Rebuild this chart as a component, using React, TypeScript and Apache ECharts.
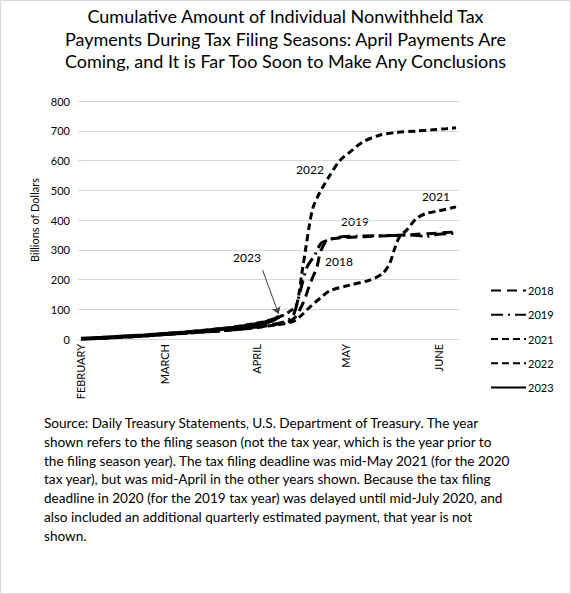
import React, { useEffect, useRef } from 'react';
import * as echarts from 'echarts';

// days counted from February 1
const monthLabels = ['FEBRUARY', 'MARCH', 'APRIL', 'MAY', 'JUNE'];
const monthStartDays = [0, 28, 59, 89, 120];

const years = ['2018', '2019', '2021', '2022', '2023'];

const s2018: [number, number][] = [
  [0, 1], [7, 3], [14, 6], [21, 10], [28, 15], [35, 19], [42, 24], [49, 29], [56, 35],
  [60, 40], [63, 45], [66, 50], [69, 56], [71, 65], [72.5, 80], [75, 130], [77, 187],
  [79.3, 243], [80.3, 288], [81.9, 322], [83.6, 335], [87, 340], [95, 344], [105, 348],
  [113, 352], [120, 356], [126, 360],
];
const s2019: [number, number][] = [
  [0, 1], [7, 3], [14, 7], [21, 11], [28, 16], [35, 20], [42, 25], [49, 30], [56, 37],
  [60, 42], [63, 47], [66, 52], [69, 60], [71, 75], [72, 97], [74.2, 181], [76, 243],
  [78.6, 282], [79.3, 299], [80.8, 323], [83, 332], [87, 343], [95, 346], [105, 348],
  [110, 350], [116, 345], [120, 352], [126, 355],
];
const s2021: [number, number][] = [
  [0, 1], [7, 3], [14, 6], [21, 10], [28, 15], [35, 19], [42, 24], [49, 29], [56, 35],
  [60, 40], [63, 44], [66, 48], [70, 55], [72, 62], [73.6, 75], [77, 108], [80.3, 137],
  [83.6, 162], [90.3, 181], [97, 198], [101.3, 220], [103.7, 254], [105.4, 304],
  [107, 343], [109.4, 366], [112.7, 405], [116, 422], [120.4, 431], [126, 444],
];
const s2022: [number, number][] = [
  [0, 1], [7, 4], [14, 8], [21, 12], [28, 18], [35, 23], [42, 30], [49, 37], [56, 48],
  [60, 55], [63, 62], [66, 72], [68, 80], [70, 92], [72.2, 110], [73.2, 150], [74.2, 220],
  [75.6, 310], [76.6, 375], [77.9, 440], [79.6, 480], [80.9, 505], [83.6, 550], [87, 600],
  [90.3, 628], [94.6, 662], [100.3, 685], [106, 694], [112.7, 699], [118, 703],
  [122.7, 707], [126, 710],
];
const s2023: [number, number][] = [
  [0, 1], [7, 4], [14, 8], [21, 12], [28, 17], [35, 22], [42, 28], [49, 35], [56, 45],
  [60, 52], [63, 58], [65, 66], [66.5, 75],
];

const seriesData = [s2018, s2019, s2021, s2022, s2023];
const dashes: (number[] | 'solid')[] = [[10, 6], [12, 5, 2, 5], [7, 4], [7, 4], 'solid'];
const widths = [3, 3, 3, 3, 4];

const footnote = [
  'Source: Daily Treasury Statements, U.S. Department of Treasury. The year',
  'shown refers to the filing season (not the tax year, which is the year prior to',
  'the filing season year). The tax filing deadline was mid-May 2021 (for the 2020',
  'tax year), but was mid-April in the other years shown. Because the tax filing',
  'deadline in 2020 (for the 2019 tax year) was delayed until mid-July 2020, and',
  'also included an additional quarterly estimated payment, that year is not',
  'shown.',
].join('\n');

const FONT = 'Lato, "Open Sans", sans-serif';

const App: React.FC = () => {
  const chartRef = useRef<HTMLDivElement>(null);

  useEffect(() => {
    document.body.style.margin = '0';
    if (!chartRef.current) return;
    const chart = echarts.init(chartRef.current, undefined, { renderer: 'svg' });

    const option = {
      animation: false,
      textStyle: { fontFamily: FONT },
      title: {
        text:
          'Cumulative Amount of Individual Nonwithheld Tax\nPayments During Tax Filing Seasons: April Payments Are\nComing, and It is Far Too Soon to Make Any Conclusions',
        left: 'center',
        top: 0,
        textStyle: { fontFamily: FONT, fontSize: 18, fontWeight: 'normal', color: '#000', lineHeight: 22.5 },
      },
      grid: { left: 78, right: 112, top: 101, bottom: 255, containLabel: false },
      legend: {
        orient: 'vertical',
        left: 485,
        top: 280,
        itemWidth: 35,
        itemHeight: 14,
        itemGap: 13,
        itemStyle: { opacity: 0 },
        textStyle: { fontFamily: FONT, fontSize: 11, color: '#000', padding: [0, 0, 0, -3] },
        data: years,
      },
      xAxis: {
        type: 'value',
        min: -1,
        max: 127,
        axisLine: { show: true, lineStyle: { color: '#d9d9d9' } },
        axisTick: { show: false, customValues: monthStartDays },
        splitLine: { show: false },
        axisLabel: {
          customValues: monthStartDays,
          rotate: 90,
          margin: 5,
          fontSize: 11,
          color: '#000',
          fontFamily: FONT,
          formatter: (v: number) => monthLabels[monthStartDays.indexOf(v)] ?? '',
        },
      },
      yAxis: {
        type: 'value',
        min: 0,
        max: 800,
        interval: 100,
        name: 'Billions of Dollars',
        nameLocation: 'middle',
        nameGap: 36,
        nameTextStyle: { fontFamily: FONT, fontSize: 11, color: '#000' },
        axisLine: { show: false },
        axisTick: { show: false },
        splitLine: { lineStyle: { color: '#d9d9d9' } },
        axisLabel: { fontSize: 11, color: '#000', fontFamily: FONT, margin: 8 },
      },
      series: years.map((y, i) => ({
        name: y,
        type: 'line',
        data: seriesData[i],
        showSymbol: false,
        symbol: 'none',
        smooth: 0.3,
        lineStyle: { color: '#000', width: widths[i], type: dashes[i] },
        itemStyle: { color: '#000' },
        z: i === 4 ? 5 : 3,
        ...(y === '2023'
          ? {
              markLine: {
                silent: true,
                symbol: ['none', 'arrow'],
                symbolSize: 7,
                label: { show: false },
                lineStyle: { color: '#404040', width: 1, type: 'solid' },
                data: [[{ coord: [61, 232] }, { coord: [66.4, 84] }]],
              },
            }
          : {}),
      })),
      graphic: [
        {
          type: 'rect',
          shape: { x: 0.5, y: 0.5, width: 570, height: 593 },
          style: { fill: 'none', stroke: '#d9d9d9', lineWidth: 1 },
          silent: true,
        },
        { type: 'text', x: 296, y: 163, style: { text: '2022', font: `12px ${FONT}`, fill: '#000' } },
        { type: 'text', x: 341, y: 215, style: { text: '2019', font: `12px ${FONT}`, fill: '#000' } },
        { type: 'text', x: 325, y: 255, style: { text: '2018', font: `12px ${FONT}`, fill: '#000' } },
        { type: 'text', x: 422, y: 190, style: { text: '2021', font: `12px ${FONT}`, fill: '#000' } },
        { type: 'text', x: 233, y: 251, style: { text: '2023', font: `12px ${FONT}`, fill: '#000' } },
        {
          type: 'text',
          x: 44,
          y: 414,
          style: { text: footnote, font: `13.6px ${FONT}`, fill: '#000', lineHeight: 18.7 },
        },
      ],
    };

    chart.setOption(option);
    return () => {
      chart.dispose();
    };
  }, []);

  return <div ref={chartRef} style={{ width: '571px', height: '594px' }} />;
};

export default App;
